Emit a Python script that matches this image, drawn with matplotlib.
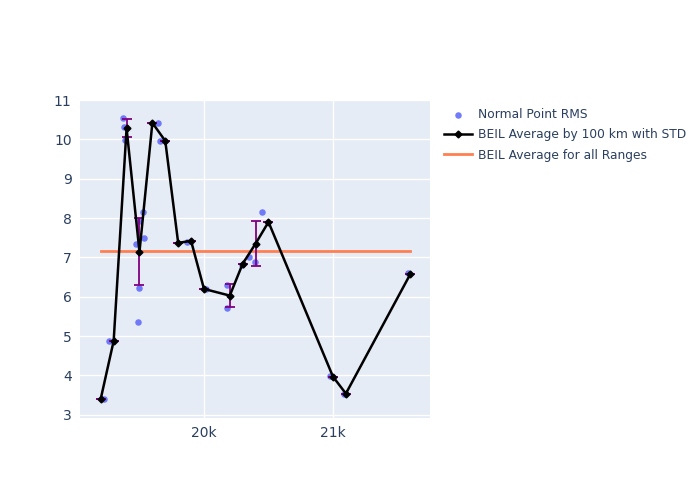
import matplotlib
matplotlib.use("Agg")
import matplotlib.pyplot as plt
from matplotlib.ticker import FixedLocator

# Normal point RMS
np_x = [19225, 19264, 19374, 19380, 19388, 19473, 19488, 19496, 19498, 19530, 19538,
        19640, 19659, 19871, 20016, 20176, 20176, 20297, 20351, 20395, 20447,
        20977, 21088, 21584]
np_y = [3.41, 4.87, 10.54, 10.32, 9.98, 7.33, 5.35, 7.93, 6.23, 8.15, 7.50,
        10.42, 9.96, 7.40, 6.20, 6.31, 5.72, 6.82, 7.00, 6.88, 8.16,
        3.98, 3.54, 6.60]

# Averages by 100 km
avg_x = [19200, 19300, 19400, 19500, 19600, 19700, 19800, 19900, 20000, 20200,
         20300, 20400, 20500, 21000, 21100, 21600]
avg_y = [3.41, 4.88, 10.28, 7.14, 10.42, 9.96, 7.37, 7.42, 6.20, 6.03,
         6.84, 7.35, 7.90, 3.97, 3.54, 6.58]
avg_std = [0, 0, 0.23, 0.85, 0, 0, 0, 0, 0, 0.29,
           0, 0.58, 0, 0, 0, 0]

overall_avg = 7.17
range_x = [19200, 21600]

fig = plt.figure(figsize=(7, 5), dpi=100)
ax = fig.add_axes([80/700, 1-418/500, 350/700, 318/500])
ax.set_facecolor("#E5ECF6")
for s in ax.spines.values():
    s.set_visible(False)

ax.scatter(np_x, np_y, s=22, color="#636EFA", alpha=0.9, zorder=3,
           linewidths=0, label="Normal Point RMS")
ax.errorbar(avg_x, avg_y, yerr=avg_std, fmt="none", ecolor="purple", elinewidth=1.3,
            capsize=3.5, capthick=1.3, zorder=4)
ax.plot(avg_x, avg_y, color="black", lw=1.8, marker="D", ms=3.5, zorder=5,
        label="BEIL Average by 100 km with STD")
ax.plot(range_x, [overall_avg, overall_avg], color="#FF7F50", lw=2, zorder=2.5,
        label="BEIL Average for all Ranges")

ax.set_xlim(19039, 21752)
ax.set_ylim(2.92, 11.0)
ax.xaxis.set_major_locator(FixedLocator([20000, 21000]))
ax.set_xticklabels(["20k", "21k"])
ax.yaxis.set_major_locator(FixedLocator(list(range(3, 12))))
ax.grid(True, color="white", lw=1)
ax.set_axisbelow(True)
ax.tick_params(length=0, labelcolor="#2a3f5f", labelsize=10, pad=6)

leg = fig.legend(loc="upper left", bbox_to_anchor=(444/700, 1-108/500), frameon=False,
                 fontsize=8.8, labelcolor="#2a3f5f", handlelength=2.3, handletextpad=0.5,
                 labelspacing=0.6, borderaxespad=0, borderpad=0)

fig.savefig("out.png", dpi=100)
